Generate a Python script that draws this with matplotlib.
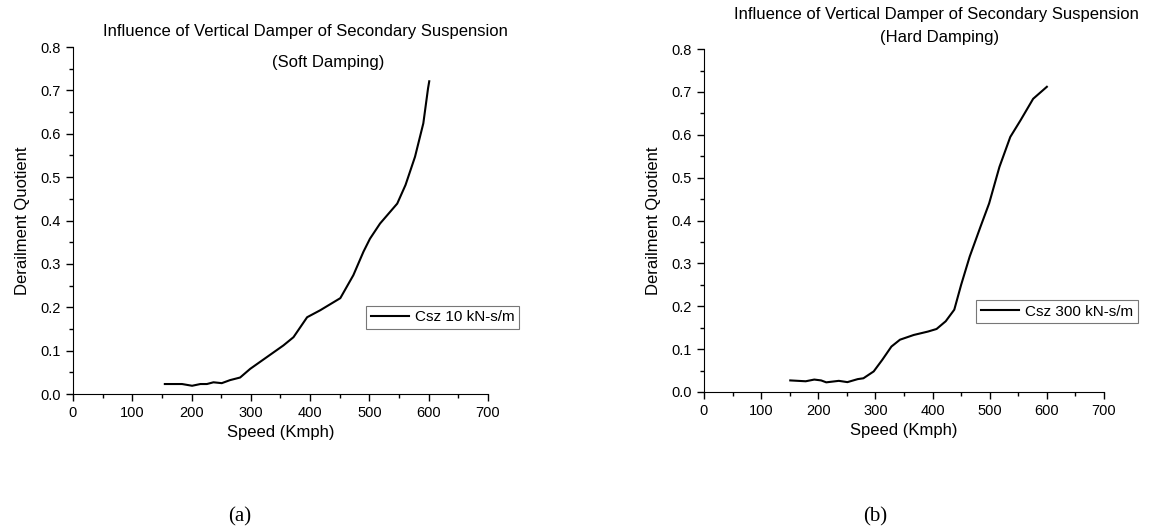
import matplotlib.pyplot as plt
from matplotlib.ticker import MultipleLocator

plt.rcParams['font.family'] = ['Liberation Sans', 'DejaVu Sans']

# (a) soft damping, Csz 10 kN-s/m
soft_speed = [155, 184, 201, 215, 226, 237, 251, 265, 282, 299, 327, 355, 372,
              395, 417, 451, 473, 490, 501, 518, 547, 561, 577, 591, 599, 601]
soft_dq = [0.023, 0.023, 0.019, 0.023, 0.023, 0.027, 0.025, 0.032, 0.038, 0.058,
           0.085, 0.112, 0.131, 0.177, 0.193, 0.221, 0.274, 0.328, 0.358, 0.393,
           0.439, 0.482, 0.547, 0.624, 0.705, 0.721]

# (b) hard damping, Csz 300 kN-s/m
hard_speed = [151, 178, 193, 205, 214, 236, 251, 269, 279, 297, 312, 328, 343,
              367, 392, 407, 423, 438, 450, 465, 484, 499, 517, 536, 554, 576, 600]
hard_dq = [0.027, 0.025, 0.029, 0.027, 0.0225, 0.026, 0.023, 0.030, 0.032, 0.048,
           0.075, 0.106, 0.122, 0.133, 0.141, 0.147, 0.165, 0.192, 0.250, 0.316,
           0.386, 0.440, 0.525, 0.595, 0.634, 0.684, 0.712]

fig = plt.figure(figsize=(11.69, 5.30), dpi=100)
ax1 = fig.add_axes([0.0624, 0.2566, 0.355, 0.6547])
ax2 = fig.add_axes([0.6022, 0.2604, 0.3422, 0.647])


def style(ax):
    ax.set_xlim(0, 700)
    ax.set_ylim(0, 0.8)
    ax.xaxis.set_major_locator(MultipleLocator(100))
    ax.xaxis.set_minor_locator(MultipleLocator(50))
    ax.yaxis.set_major_locator(MultipleLocator(0.1))
    ax.yaxis.set_minor_locator(MultipleLocator(0.05))
    ax.yaxis.set_major_formatter(lambda v, p: f'{v:.1f}')
    ax.spines['top'].set_visible(False)
    ax.spines['right'].set_visible(False)
    ax.tick_params(which='major', length=5, width=1, labelsize=10.5)
    ax.tick_params(which='minor', length=3, width=1)
    ax.set_xlabel('Speed (Kmph)', fontsize=12, labelpad=4)
    ax.set_ylabel('Derailment Quotient', fontsize=12, labelpad=8)


def add_legend(ax, x, y):
    leg = ax.legend(loc='upper left', bbox_to_anchor=(x, y), fontsize=11,
                    fancybox=False, edgecolor='#555555', borderpad=0.3,
                    handlelength=2.5, handletextpad=0.4, borderaxespad=0)
    leg.get_frame().set_linewidth(0.8)


ax1.plot(soft_speed, soft_dq, color='black', lw=1.5, label='Csz 10 kN-s/m')
style(ax1)
add_legend(ax1, 0.706, 0.254)
fig.text(0.261, 0.94, 'Influence of Vertical Damper of Secondary Suspension',
         ha='center', va='center', fontsize=12)
fig.text(0.281, 0.883, '(Soft Damping)', ha='center', va='center', fontsize=12)

ax2.plot(hard_speed, hard_dq, color='black', lw=1.5, label='Csz 300 kN-s/m')
style(ax2)
add_legend(ax2, 0.68, 0.268)
fig.text(0.801, 0.972, 'Influence of Vertical Damper of Secondary Suspension',
         ha='center', va='center', fontsize=12)
fig.text(0.804, 0.930, '(Hard Damping)', ha='center', va='center', fontsize=12)

fig.text(0.205, 0.025, '(a)', ha='center', va='center', fontsize=15,
         family=['Liberation Serif', 'DejaVu Serif'])
fig.text(0.749, 0.025, '(b)', ha='center', va='center', fontsize=15,
         family=['Liberation Serif', 'DejaVu Serif'])

fig.savefig('out.png', dpi=100)
